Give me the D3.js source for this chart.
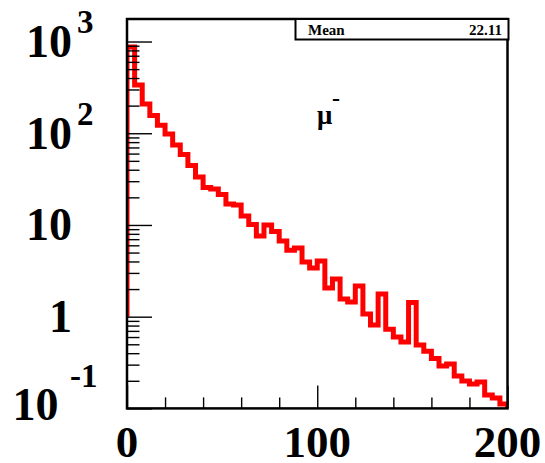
<!DOCTYPE html>
<html>
<head>
<meta charset="utf-8">
<script src="https://cdn.jsdelivr.net/npm/d3@7"></script>
<style>
  html, body { margin: 0; padding: 0; background: #fff; }
  svg { display: block; }
</style>
</head>
<body>
<svg id="chart" width="545" height="463"></svg>
<script>
// Histogram bin lower edges (bin width 4) and the upper edge of the last bin
const binEdges = [0, 4, 8, 12, 16, 20, 24, 28, 32, 36, 40, 44, 48, 52, 56, 60, 64, 68, 72, 76,
                  80, 84, 88, 92, 96, 100, 104, 108, 112, 116, 120, 124, 128, 132, 136, 140, 144, 148, 152, 156,
                  160, 164, 168, 172, 176, 180, 184, 188, 192, 196, 200];

// Bin contents of the mu- spectrum
const binContents = [873, 336, 209, 156, 122, 98, 74.5, 58.7, 44.5, 33.4,
                     25.6, 24.7, 21.5, 16.9, 16.5, 12.5, 10.1, 7.6, 10, 8.5,
                     6.7, 5.3, 5.6, 3.95, 3.4, 4.05, 2.06, 2.58, 1.56, 1.45,
                     2.16, 1.07, 0.81, 1.77, 0.73, 0.60, 0.53, 1.43, 0.49, 0.42,
                     0.35, 0.29, 0.305, 0.225, 0.199, 0.185, 0.194, 0.14, 0.13, 0.112];

// Level the outline starts from on the left edge
const outlineBase = 1;

// Axis ranges and ticks
const xDomain = [0, 200];
const yDomain = [0.1, 1760];
const xMajorTicks = [0, 100, 200];
const xMinorTicks = [20, 40, 60, 80, 120, 140, 160, 180];
const yMajorTicks = [0.1, 1, 10, 100, 1000];
const xTickLabels = ["0", "100", "200"];
const yTickLabels = [
  { base: "10", exp: "-1" },
  { base: "1",  exp: "" },
  { base: "10", exp: "" },
  { base: "10", exp: "2" },
  { base: "10", exp: "3" }
];

// Statistics box
const statName = "Mean";
const statValue = "22.11";
const particleLabel = "\u03bc";
const particleCharge = "-";

const svg = d3.select("#chart");
const frame = { left: 127, right: 507.5, top: 19, bottom: 408.4 };

const x = d3.scaleLinear().domain(xDomain).range([frame.left, frame.right]);
const y = d3.scaleLog().domain(yDomain).range([frame.bottom, frame.top]);

// minor log ticks: 2..9 times every decade, inside the y range
const yMinorTicks = [];
yMajorTicks.forEach(d => {
  for (let m = 2; m <= 9; m++) {
    const v = d * m;
    if (v > yDomain[0] && v < yDomain[1]) yMinorTicks.push(v);
  }
});

svg.append("defs").append("clipPath").attr("id", "frameClip")
  .append("rect")
  .attr("x", frame.left).attr("y", frame.top)
  .attr("width", frame.right - frame.left)
  .attr("height", frame.bottom - frame.top);

// Histogram outline drawn as a step path
const pts = [[x(binEdges[0]), y(outlineBase)]];
binContents.forEach((v, i) => {
  pts.push([x(binEdges[i]), y(v)]);
  pts.push([x(binEdges[i + 1]), y(v)]);
});
pts.push([x(binEdges[binEdges.length - 1]), y(yDomain[0])]);

svg.append("path")
  .attr("clip-path", "url(#frameClip)")
  .attr("d", d3.line()(pts))
  .attr("fill", "none")
  .attr("stroke", "#ff0000")
  .attr("stroke-width", 5)
  .attr("stroke-linejoin", "miter");

// Y axis ticks pointing into the frame
function styleTicks(g) {
  g.select(".domain").remove();
  g.selectAll(".tick line").attr("stroke", "#000").attr("stroke-width", 1.4);
  g.selectAll(".tick text").remove();
}
svg.append("g").attr("transform", `translate(${frame.left},0)`)
  .call(d3.axisRight(y).tickValues(yMajorTicks).tickSize(25).tickFormat(""))
  .call(styleTicks);
svg.append("g").attr("transform", `translate(${frame.left},0)`)
  .call(d3.axisRight(y).tickValues(yMinorTicks).tickSize(12.5).tickFormat(""))
  .call(styleTicks);

// X axis ticks pointing up into the frame
svg.append("g").attr("transform", `translate(0,${frame.bottom})`)
  .call(d3.axisTop(x).tickValues(xMajorTicks).tickSize(23).tickFormat(""))
  .call(styleTicks);
svg.append("g").attr("transform", `translate(0,${frame.bottom})`)
  .call(d3.axisTop(x).tickValues(xMinorTicks).tickSize(11).tickFormat(""))
  .call(styleTicks);

// Frame
svg.append("rect")
  .attr("x", frame.left).attr("y", frame.top)
  .attr("width", frame.right - frame.left)
  .attr("height", frame.bottom - frame.top)
  .attr("fill", "none").attr("stroke", "#000").attr("stroke-width", 2.5);

const labelFont = "'Liberation Serif', 'Times New Roman', serif";

// X tick labels
svg.append("g").selectAll("text").data(xMajorTicks).join("text")
  .attr("x", d => x(d))
  .attr("y", 457)
  .attr("text-anchor", "middle")
  .attr("font-family", labelFont)
  .attr("font-weight", "bold")
  .attr("font-size", 45)
  .text((d, i) => xTickLabels[i]);

// Y tick labels with superscript exponents
const yl = svg.append("g");
yMajorTicks.forEach((v, i) => {
  const lab = yTickLabels[i];
  const neg = lab.exp.startsWith("-");
  const baseEnd = neg ? 58.5 : 72;
  const baseY = y(v) + (neg ? 12 : 15.5);
  yl.append("text")
    .attr("x", baseEnd).attr("y", baseY)
    .attr("text-anchor", "end")
    .attr("font-family", labelFont).attr("font-weight", "bold").attr("font-size", 46)
    .text(lab.base);
  if (lab.exp) {
    yl.append("text")
      .attr("x", neg ? 70 : 77).attr("y", baseY - (neg ? 33 : 24))
      .attr("font-family", labelFont).attr("font-weight", "bold").attr("font-size", 33)
      .text(lab.exp);
  }
});

// Particle label
svg.append("text")
  .attr("x", 317).attr("y", 124)
  .attr("font-family", labelFont).attr("font-weight", "bold").attr("font-size", 27)
  .text(particleLabel);
svg.append("text")
  .attr("x", 332).attr("y", 106)
  .attr("font-family", labelFont).attr("font-weight", "bold").attr("font-size", 24)
  .text(particleCharge);

// Statistics box
const box = { x: 295.5, y: 19, w: 213, h: 20.5 };
svg.append("rect")
  .attr("x", box.x).attr("y", box.y).attr("width", box.w).attr("height", box.h)
  .attr("fill", "#fff").attr("stroke", "#000").attr("stroke-width", 2);
svg.append("text")
  .attr("x", 308).attr("y", 35)
  .attr("font-family", labelFont).attr("font-weight", "bold").attr("font-size", 15)
  .text(statName);
svg.append("text")
  .attr("x", 502).attr("y", 35)
  .attr("text-anchor", "end")
  .attr("font-family", labelFont).attr("font-weight", "bold").attr("font-size", 15)
  .text(statValue);
</script>
</body>
</html>
